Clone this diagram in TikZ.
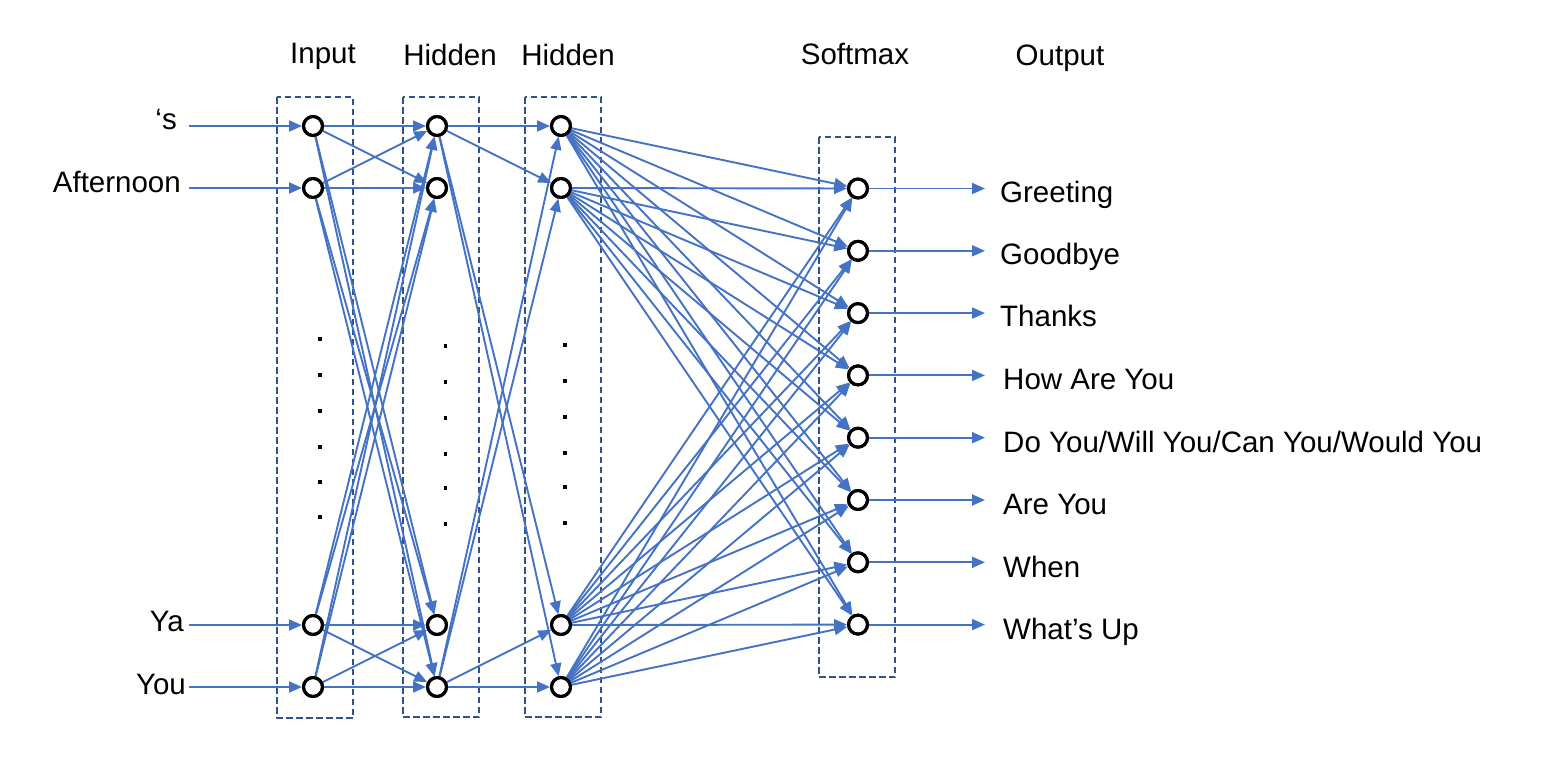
\documentclass[tikz,border=0pt]{standalone}
\usepackage{fontspec}
\setmainfont{Liberation Sans}
\usetikzlibrary{arrows.meta}
\definecolor{lineblue}{HTML}{4472C4}
\definecolor{boxblue}{HTML}{2F528F}
\begin{document}
\begin{tikzpicture}[x=1pt,y=-1pt,
  neuron/.style={circle,draw=black,line width=3pt,fill=white,inner sep=0pt,minimum size=19pt},
  conn/.style={draw=lineblue,line width=1.9pt,-{Triangle[length=13pt,width=11pt]}},
  grp/.style={draw=boxblue,line width=2pt,dash pattern=on 6.5pt off 3.5pt},
  lbl/.style={font=\fontsize{29.5}{35}\selectfont,inner sep=0pt},
  dotmark/.style={fill=black,draw=none,minimum size=3.4pt,inner sep=0pt,rectangle}
]
\useasboundingbox (0,0) rectangle (1566,772);

% group boxes
\draw[grp] (277,97) rectangle (353,718);
\draw[grp] (403,97) rectangle (479,717);
\draw[grp] (525,97) rectangle (601,717);
\draw[grp] (819,137) rectangle (895,677);

% headers
\node[lbl,anchor=base] (hIn) at (323,63) {Input};
\node[lbl,anchor=base] (hH1) at (450,65) {Hidden};
\node[lbl,anchor=base] (hH2) at (568,65) {Hidden};
\node[lbl,anchor=base] (hSm) at (855,64) {Softmax};
\node[lbl,anchor=base] (hOut) at (1060,65) {Output};

% input labels
\node[lbl,anchor=base east] (lS) at (177,129) {‘s};
\node[lbl,anchor=base east] (lA) at (181,192) {Afternoon};
\node[lbl,anchor=base east] (lY) at (184,631) {Ya};
\node[lbl,anchor=base east] (lU) at (186,694) {You};

% neurons
\foreach \i/\y in {1/126,2/188,3/625,4/687}{
  \node[neuron] (i\i) at (313,\y) {};
  \node[neuron] (a\i) at (437,\y) {};
  \node[neuron] (b\i) at (561,\y) {};
  \coordinate (s\i) at (189,\y);
}
\foreach \k/\y in {1/188.5,2/250.8,3/313.1,4/375.4,5/437.7,6/500,7/562.3,8/624.6}{
  \node[neuron] (o\k) at (858,\y) {};
  \coordinate (t\k) at (985,\y);
}

% vertical dots
\foreach \y in {339,375,411,447,482,517}{
  \node[dotmark] at (320,\y) {};
}
\foreach \y in {346,382,418,454,488,524}{
  \node[dotmark] at (445.5,\y) {};
  \node[dotmark] at (565,\y-1) {};
}

% input arrows
\foreach \i in {1,...,4}{
  \draw[conn] (s\i) -- (i\i);
}
% input -> hidden 1 (full)
\foreach \i in {1,...,4}{
  \foreach \j in {1,...,4}{
    \draw[conn] (i\i) -- (a\j);
  }
}
% hidden 1 (top, bottom) -> hidden 2
\foreach \i in {1,4}{
  \foreach \j in {1,...,4}{
    \draw[conn] (a\i) -- (b\j);
  }
}
% hidden 2 -> softmax (full)
\foreach \i in {1,...,4}{
  \foreach \k in {1,...,8}{
    \draw[conn] (b\i) -- (o\k);
  }
}
% softmax -> outputs
\foreach \k in {1,...,8}{
  \draw[conn] (o\k) -- (t\k);
}

% redraw neuron rings on top
\foreach \i/\y in {1/126,2/188,3/625,4/687}{
  \draw[black,line width=3pt] (313,\y) circle (9.5pt);
  \draw[black,line width=3pt] (437,\y) circle (9.5pt);
  \draw[black,line width=3pt] (561,\y) circle (9.5pt);
}
\foreach \y in {188.5,250.8,313.1,375.4,437.7,500,562.3,624.6}{
  \draw[black,line width=3pt] (858,\y) circle (9.5pt);
}

% output labels
\node[lbl,anchor=base west] (g1) at (1000,202) {Greeting};
\node[lbl,anchor=base west] (g2) at (1000,264) {Goodbye};
\node[lbl,anchor=base west] (g3) at (1000,326) {Thanks};
\node[lbl,anchor=base west] (g4) at (1003,389) {How Are You};
\node[lbl,anchor=base west] (g5) at (1003,452) {Do You/Will You/Can You/Would You};
\node[lbl,anchor=base west] (g6) at (1003,514) {Are You};
\node[lbl,anchor=base west] (g7) at (1003,577) {When};
\node[lbl,anchor=base west] (g8) at (1003,639) {What’s Up};
\end{tikzpicture}
\end{document}
